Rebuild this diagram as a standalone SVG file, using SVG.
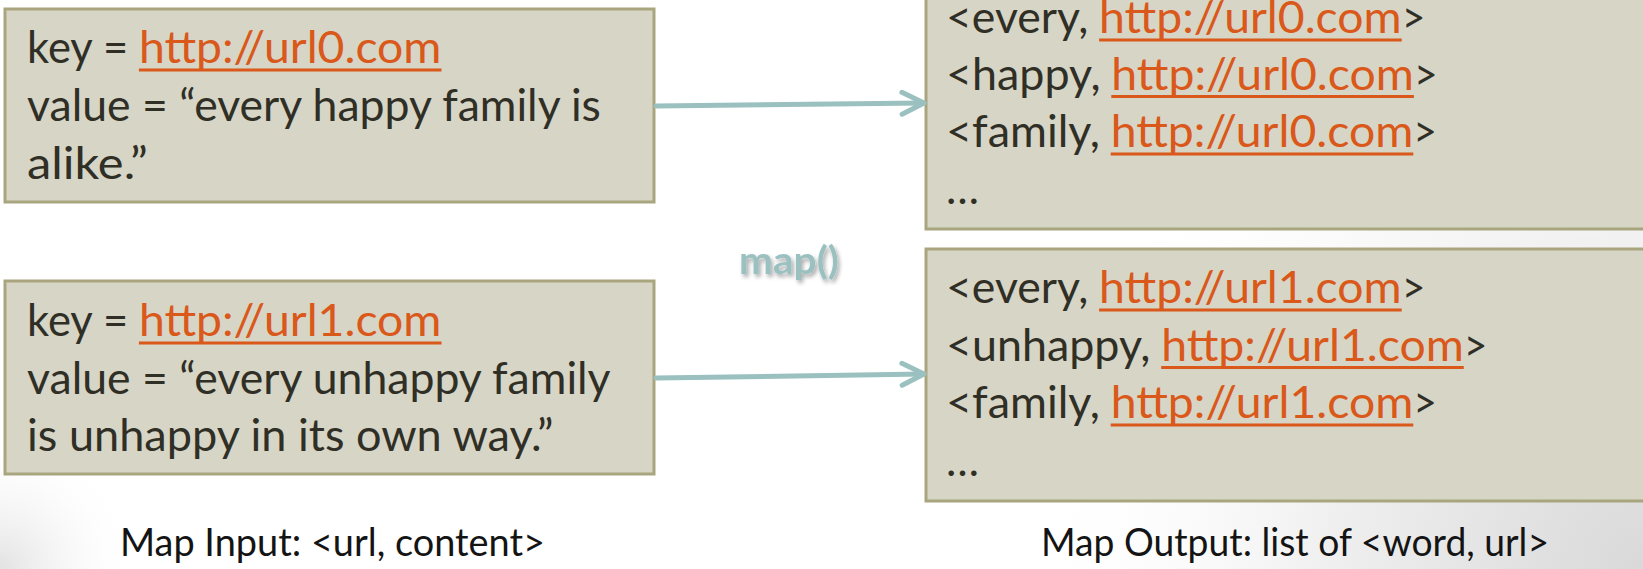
<svg xmlns="http://www.w3.org/2000/svg" width="1643" height="569" viewBox="0 0 1643 569">
  <defs>
    <radialGradient id="bgRight" cx="1643" cy="569" r="620" gradientUnits="userSpaceOnUse">
      <stop offset="0" stop-color="#d9d9d9"/>
      <stop offset="0.5" stop-color="#efefef"/>
      <stop offset="1" stop-color="#ffffff" stop-opacity="0"/>
    </radialGradient>
    <radialGradient id="bgLeft" cx="0" cy="569" r="140" gradientUnits="userSpaceOnUse">
      <stop offset="0" stop-color="#e2e2e2"/>
      <stop offset="1" stop-color="#ffffff" stop-opacity="0"/>
    </radialGradient>
    <filter id="softShadow" x="-20%" y="-20%" width="140%" height="160%">
      <feGaussianBlur in="SourceAlpha" stdDeviation="2"/>
      <feOffset dx="2" dy="3" result="blur"/>
      <feComponentTransfer><feFuncA type="linear" slope="0.35"/></feComponentTransfer>
      <feMerge><feMergeNode/><feMergeNode in="SourceGraphic"/></feMerge>
    </filter>
    <marker id="chevron" markerUnits="userSpaceOnUse" markerWidth="30" markerHeight="30" viewBox="-26 -14 30 28" refX="0" refY="0" orient="auto">
      <path d="M-22,-11 L0,0 L-22,11" fill="none" stroke="#9bc0c0" stroke-width="5" stroke-linecap="round" stroke-linejoin="round"/>
    </marker>
  </defs>
  <style>
    .box { fill: #d7d5c6; stroke: #a9a67f; stroke-width: 3; }
    .txt { font-family: Lato, "Liberation Sans", sans-serif; font-size: 44px; fill: #302f26; }
    .link { font-family: Lato, "Liberation Sans", sans-serif; font-size: 44px; fill: #d9581a; }
    .ul { stroke: #d9581a; stroke-width: 3; }
    .caption { font-family: Lato, "Liberation Sans", sans-serif; font-size: 38px; fill: #141414; }
    .conn { fill: none; stroke: #9bc0c0; stroke-width: 5; stroke-linecap: round; }
    .fn { font-family: Lato, "Liberation Sans", sans-serif; font-weight: bold; font-size: 39px; fill: #9bc0c0; }
  </style>

  <!-- slide background -->
  <rect x="0" y="0" width="1643" height="569" fill="#ffffff"/>
  <rect x="0" y="0" width="1643" height="569" fill="url(#bgRight)"/>
  <rect x="0" y="400" width="160" height="169" fill="url(#bgLeft)"/>

  <!-- input record 0 -->
  <g id="input0">
    <rect class="box" x="5" y="9" width="649" height="193"/>
    <text class="txt" x="27" y="63" textLength="101.2" lengthAdjust="spacingAndGlyphs">key =</text>
    <text class="link" x="138.9" y="63" textLength="302.6" lengthAdjust="spacingAndGlyphs">http://url0.com</text>
    <line class="ul" x1="138.9" y1="70" x2="441.5" y2="70"/>
    <text class="txt" x="27" y="121" textLength="573.9" lengthAdjust="spacingAndGlyphs">value = “every happy family is</text>
    <text class="txt" x="27" y="178.5" textLength="120.8" lengthAdjust="spacingAndGlyphs">alike.”</text>
  </g>

  <!-- input record 1 -->
  <g id="input1">
    <rect class="box" x="5" y="281" width="649" height="193"/>
    <text class="txt" x="27" y="336" textLength="101.2" lengthAdjust="spacingAndGlyphs">key =</text>
    <text class="link" x="138.9" y="336" textLength="302.6" lengthAdjust="spacingAndGlyphs">http://url1.com</text>
    <line class="ul" x1="138.9" y1="343" x2="441.5" y2="343"/>
    <text class="txt" x="27" y="393.5" textLength="583.6" lengthAdjust="spacingAndGlyphs">value = “every unhappy family</text>
    <text class="txt" x="27" y="451" textLength="526.4" lengthAdjust="spacingAndGlyphs">is unhappy in its own way.”</text>
  </g>

  <!-- output pairs for url0 (box runs past the top and right edges) -->
  <g id="output0">
    <rect class="box" x="926" y="-20" width="740" height="249"/>
    <text class="txt" x="946" y="33" textLength="142.4" lengthAdjust="spacingAndGlyphs">&lt;every,</text>
    <text class="link" x="1099.1" y="33" textLength="302.6" lengthAdjust="spacingAndGlyphs">http://url0.com</text>
    <line class="ul" x1="1099.1" y1="40" x2="1401.7" y2="40"/>
    <text class="txt" x="1401.7" y="33" textLength="23.7" lengthAdjust="spacingAndGlyphs">&gt;</text>

    <text class="txt" x="946" y="89.5" textLength="154.6" lengthAdjust="spacingAndGlyphs">&lt;happy,</text>
    <text class="link" x="1111.3" y="89.5" textLength="302.6" lengthAdjust="spacingAndGlyphs">http://url0.com</text>
    <line class="ul" x1="1111.3" y1="96.5" x2="1413.9" y2="96.5"/>
    <text class="txt" x="1413.9" y="89.5" textLength="23.7" lengthAdjust="spacingAndGlyphs">&gt;</text>

    <text class="txt" x="946" y="147" textLength="154" lengthAdjust="spacingAndGlyphs">&lt;family,</text>
    <text class="link" x="1110.7" y="147" textLength="302.6" lengthAdjust="spacingAndGlyphs">http://url0.com</text>
    <line class="ul" x1="1110.7" y1="154" x2="1413.3" y2="154"/>
    <text class="txt" x="1413.3" y="147" textLength="23.7" lengthAdjust="spacingAndGlyphs">&gt;</text>

    <text class="txt" x="946" y="204">…</text>
  </g>

  <!-- output pairs for url1 -->
  <g id="output1">
    <rect class="box" x="926" y="249" width="740" height="252"/>
    <text class="txt" x="946" y="303" textLength="142.4" lengthAdjust="spacingAndGlyphs">&lt;every,</text>
    <text class="link" x="1099.1" y="303" textLength="302.6" lengthAdjust="spacingAndGlyphs">http://url1.com</text>
    <line class="ul" x1="1099.1" y1="310" x2="1401.7" y2="310"/>
    <text class="txt" x="1401.7" y="303" textLength="23.7" lengthAdjust="spacingAndGlyphs">&gt;</text>

    <text class="txt" x="946" y="360.5" textLength="204.5" lengthAdjust="spacingAndGlyphs">&lt;unhappy,</text>
    <text class="link" x="1161.2" y="360.5" textLength="302.6" lengthAdjust="spacingAndGlyphs">http://url1.com</text>
    <line class="ul" x1="1161.2" y1="367.5" x2="1463.8" y2="367.5"/>
    <text class="txt" x="1463.8" y="360.5" textLength="23.7" lengthAdjust="spacingAndGlyphs">&gt;</text>

    <text class="txt" x="946" y="418" textLength="154" lengthAdjust="spacingAndGlyphs">&lt;family,</text>
    <text class="link" x="1110.7" y="418" textLength="302.6" lengthAdjust="spacingAndGlyphs">http://url1.com</text>
    <line class="ul" x1="1110.7" y1="425" x2="1413.3" y2="425"/>
    <text class="txt" x="1413.3" y="418" textLength="23.7" lengthAdjust="spacingAndGlyphs">&gt;</text>

    <text class="txt" x="946" y="475.5">…</text>
  </g>

  <!-- map() operator label -->
  <g id="map-label">
    <text class="fn" x="739" y="274" textLength="100" lengthAdjust="spacingAndGlyphs" filter="url(#softShadow)">map()</text>
  </g>

  <!-- connectors -->
  <g id="connectors">
    <line class="conn" x1="656" y1="106" x2="924" y2="103" marker-end="url(#chevron)"/>
    <line class="conn" x1="656" y1="378" x2="924" y2="374" marker-end="url(#chevron)"/>
  </g>

  <!-- captions -->
  <g id="captions">
    <text class="caption" x="120" y="556" textLength="425" lengthAdjust="spacingAndGlyphs">Map Input: &lt;url, content&gt;</text>
    <text class="caption" x="1041" y="556" textLength="508" lengthAdjust="spacingAndGlyphs">Map Output: list of &lt;word, url&gt;</text>
  </g>
</svg>
